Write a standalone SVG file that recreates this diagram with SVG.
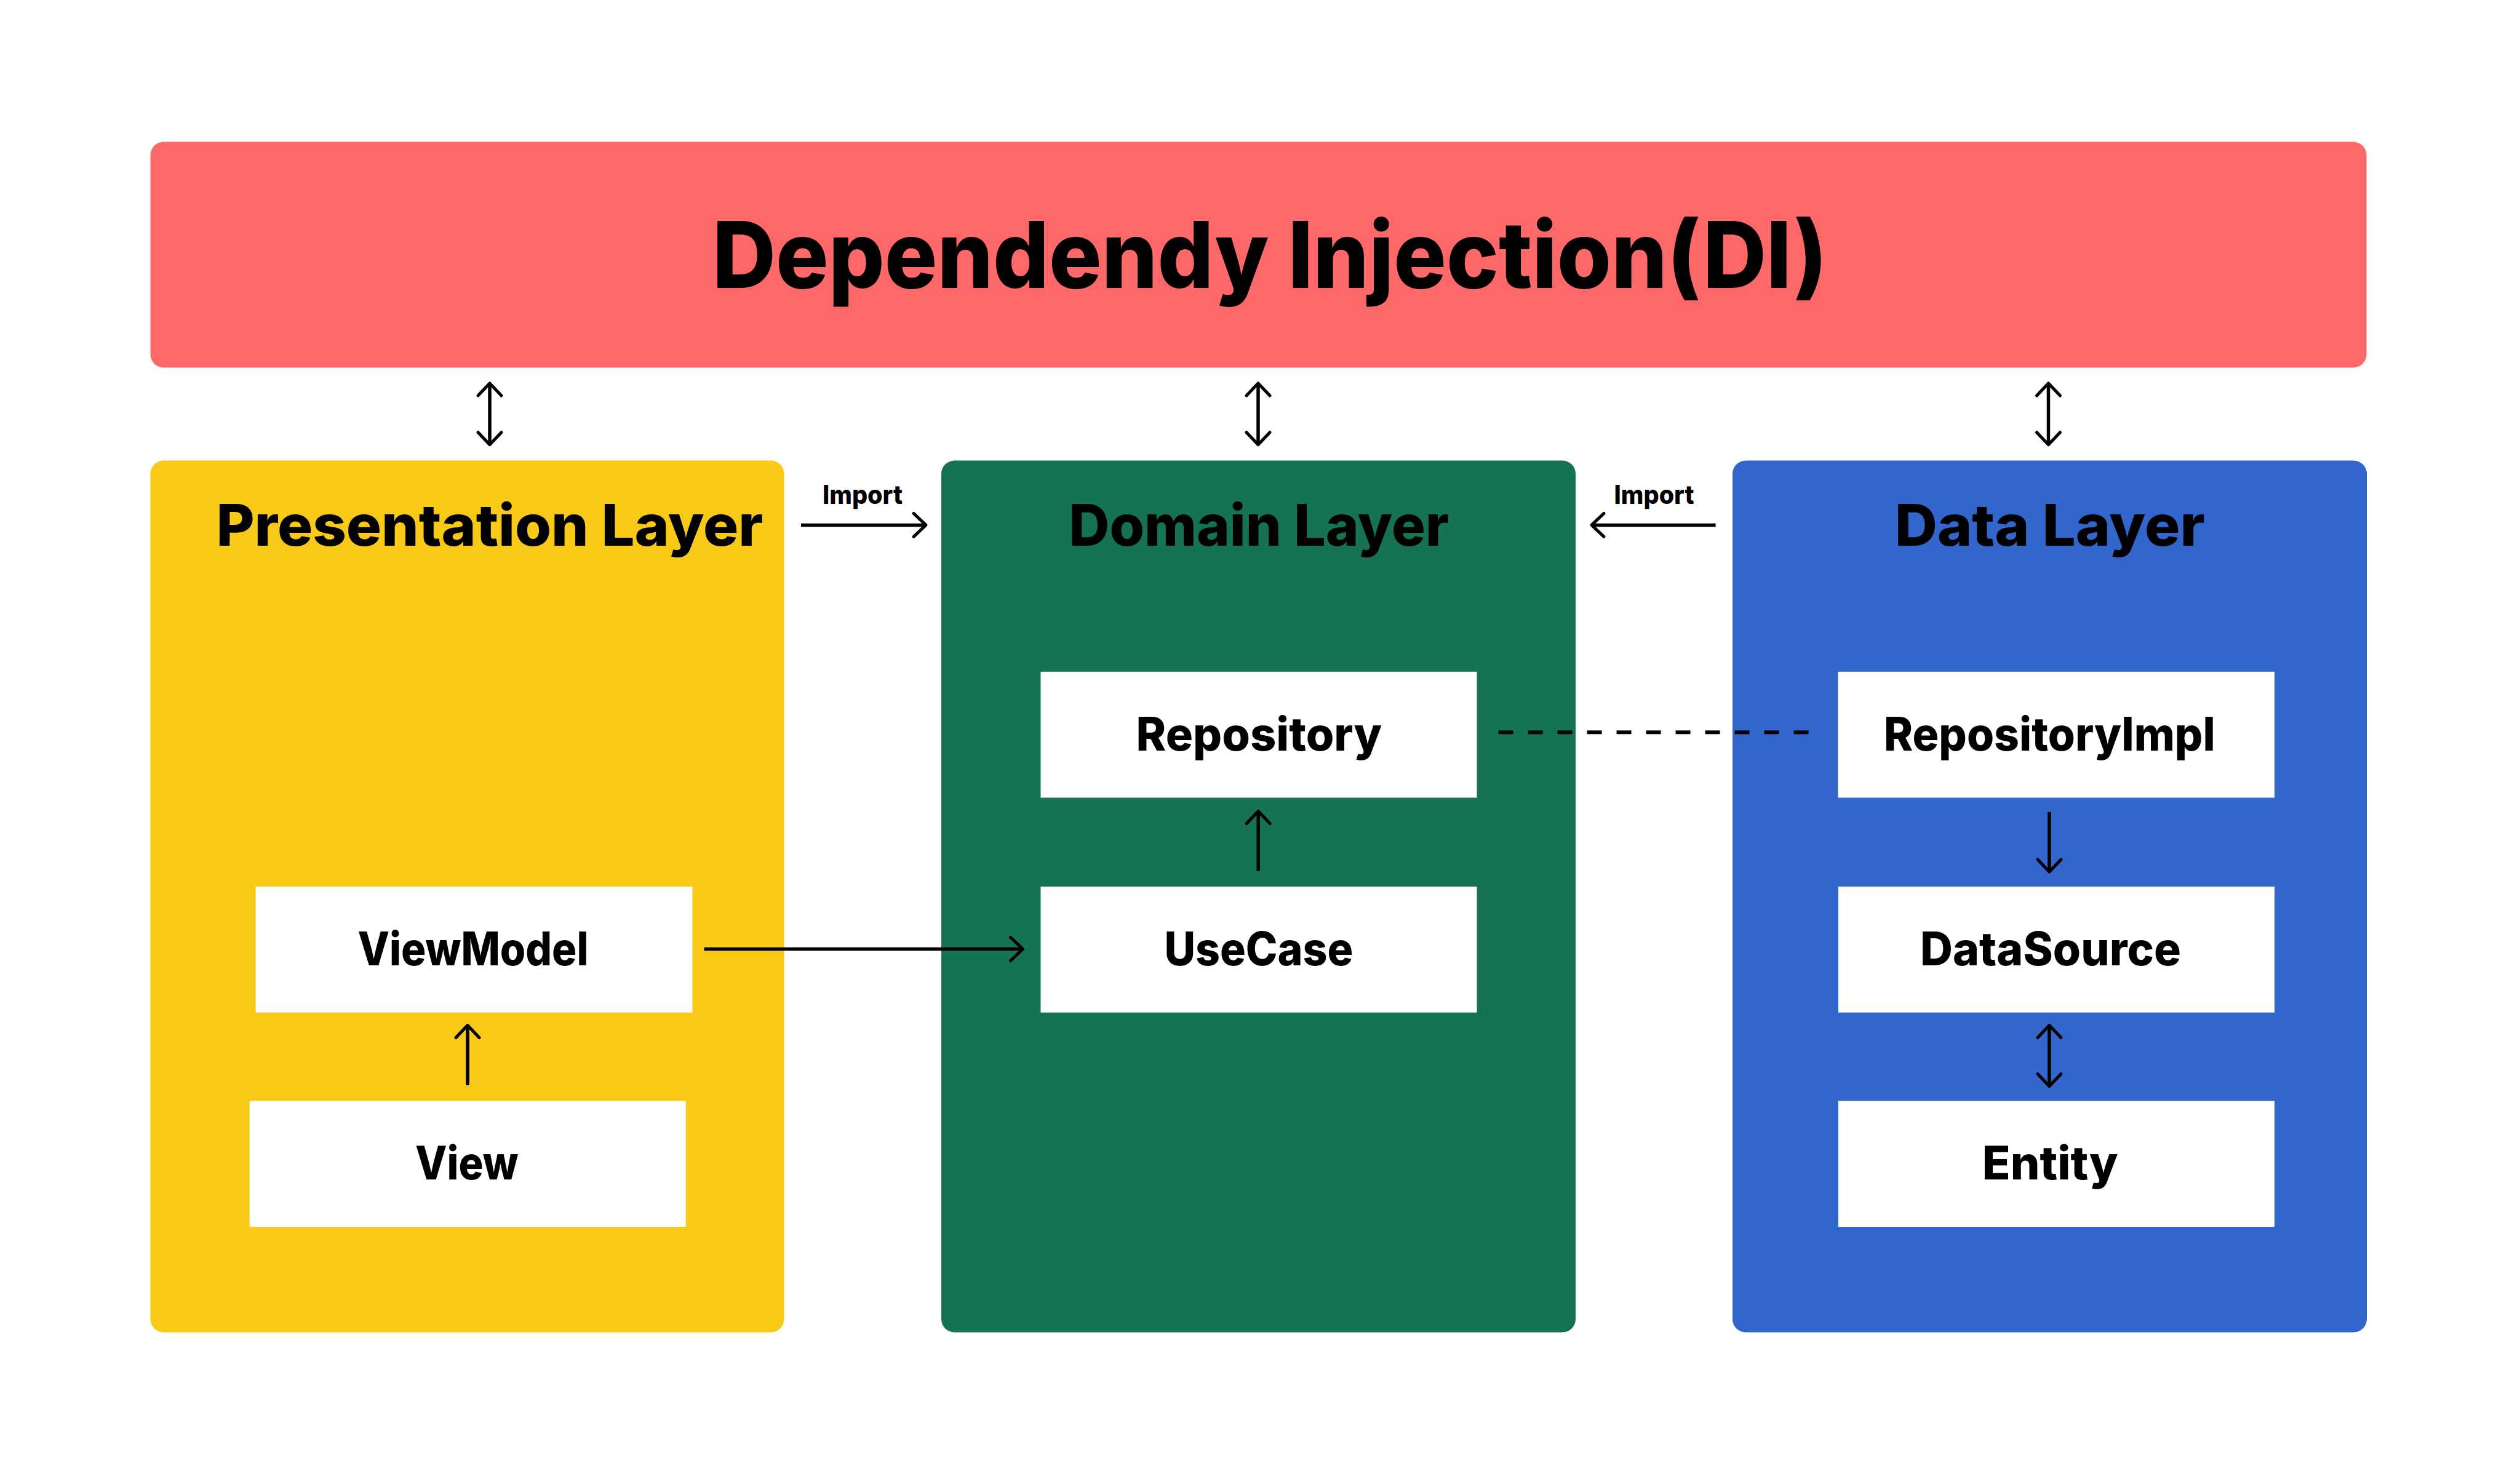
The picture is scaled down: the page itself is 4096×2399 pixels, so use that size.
<svg xmlns="http://www.w3.org/2000/svg" width="4096" height="2399" viewBox="0 0 4096 2399">
<style>
.t{font-family:Inter,"Noto Sans","Liberation Sans",sans-serif;font-weight:800;fill:#000}
.big{font-size:150px}
.layer{font-size:93px}
.lbl{font-size:75px}
.imp{font-size:42px}
.box{fill:#fff}
.c{fill:none;stroke:#000;stroke-width:5.5}
.d{fill:none;stroke:#000;stroke-width:6;stroke-dasharray:24 24}
</style>
<defs>
<marker id="ah" markerUnits="userSpaceOnUse" markerWidth="60" markerHeight="60" viewBox="-30 -30 60 60" refX="0" refY="0" orient="auto-start-reverse">
<path d="M-20,-19 L0,0 L-20,19" fill="none" stroke="#000" stroke-width="5" stroke-linecap="round" stroke-linejoin="round"/>
</marker>
</defs>
<rect width="4096" height="2399" fill="#fff"/>
<g id="di">
<rect x="244.5" y="230.5" width="3602" height="367" rx="21.5" fill="#FF6868"/>
<text class="t big" x="1158" y="467.5" textLength="1812" lengthAdjust="spacingAndGlyphs">Dependendy Injection(DI)</text>
</g>
<g id="presentation">
<rect x="244.5" y="748.5" width="1030" height="1417" rx="21.5" fill="#F9C918"/>
<text class="t layer" x="351.4" y="887" textLength="889" lengthAdjust="spacingAndGlyphs">Presentation Layer</text>
</g>
<g id="domain">
<rect x="1530" y="748.5" width="1031" height="1417" rx="21.5" fill="#167351"/>
<text class="t layer" x="1737.3" y="887" textLength="618" lengthAdjust="spacingAndGlyphs">Domain Layer</text>
</g>
<g id="data">
<rect x="2816" y="748.5" width="1031" height="1417" rx="21.5" fill="#3366CC"/>
<text class="t layer" x="3079.7" y="887" textLength="504" lengthAdjust="spacingAndGlyphs">Data Layer</text>
</g>
<g id="viewmodel">
<rect class="box" x="415.6" y="1441" width="709.8" height="204.7"/>
<text class="t lbl" x="581.4" y="1568.5" textLength="375" lengthAdjust="spacingAndGlyphs">ViewModel</text>
</g>
<g id="view">
<rect class="box" x="405.7" y="1789.3" width="709" height="204.7"/>
<text class="t lbl" x="675" y="1917" textLength="167.5" lengthAdjust="spacingAndGlyphs">View</text>
</g>
<g id="repository">
<rect class="box" x="1691.5" y="1091.8" width="709" height="204.7"/>
<text class="t lbl" x="1846.6" y="1220" textLength="399.6" lengthAdjust="spacingAndGlyphs">Repository</text>
</g>
<g id="usecase">
<rect class="box" x="1691.5" y="1441" width="709" height="204.7"/>
<text class="t lbl" x="1892.4" y="1568.5" textLength="307" lengthAdjust="spacingAndGlyphs">UseCase</text>
</g>
<g id="repositoryimpl">
<rect class="box" x="2987.5" y="1091.8" width="709.5" height="204.7"/>
<text class="t lbl" x="3062" y="1220" textLength="538.6" lengthAdjust="spacingAndGlyphs">RepositoryImpl</text>
</g>
<g id="datasource">
<rect class="box" x="2988" y="1441" width="709" height="204.7"/>
<text class="t lbl" x="3121" y="1568.5" textLength="424" lengthAdjust="spacingAndGlyphs">DataSource</text>
</g>
<g id="entity">
<rect class="box" x="2988" y="1789.3" width="709" height="204.7"/>
<text class="t lbl" x="3221.8" y="1917" textLength="220.8" lengthAdjust="spacingAndGlyphs">Entity</text>
</g>
<g id="connectors">
<path class="c" d="M796,623 L796,722.7" marker-start="url(#ah)" marker-end="url(#ah)"/>
<path class="c" d="M2045,623 L2045,722.7" marker-start="url(#ah)" marker-end="url(#ah)"/>
<path class="c" d="M3329.5,623 L3329.5,722.7" marker-start="url(#ah)" marker-end="url(#ah)"/>
<path class="c" d="M1302,853.4 L1505,853.4" marker-end="url(#ah)"/>
<text class="t imp" x="1337" y="819" textLength="130" lengthAdjust="spacingAndGlyphs">Import</text>
<path class="c" d="M2788.6,853.4 L2587,853.4" marker-end="url(#ah)"/>
<text class="t imp" x="2623.6" y="819" textLength="130" lengthAdjust="spacingAndGlyphs">Import</text>
<path class="d" d="M2435.6,1190.3 L2950.6,1190.3"/>
<path class="c" d="M2045.2,1415.7 L2045.2,1318.5" marker-end="url(#ah)"/>
<path class="c" d="M760,1764 L760,1666.5" marker-end="url(#ah)"/>
<path class="c" d="M1144.5,1542.5 L1662.5,1542.5" marker-end="url(#ah)"/>
<path class="c" d="M3331,1320 L3331,1417" marker-end="url(#ah)"/>
<path class="c" d="M3331,1666.5 L3331,1765.5" marker-start="url(#ah)" marker-end="url(#ah)"/>
</g>
</svg>
